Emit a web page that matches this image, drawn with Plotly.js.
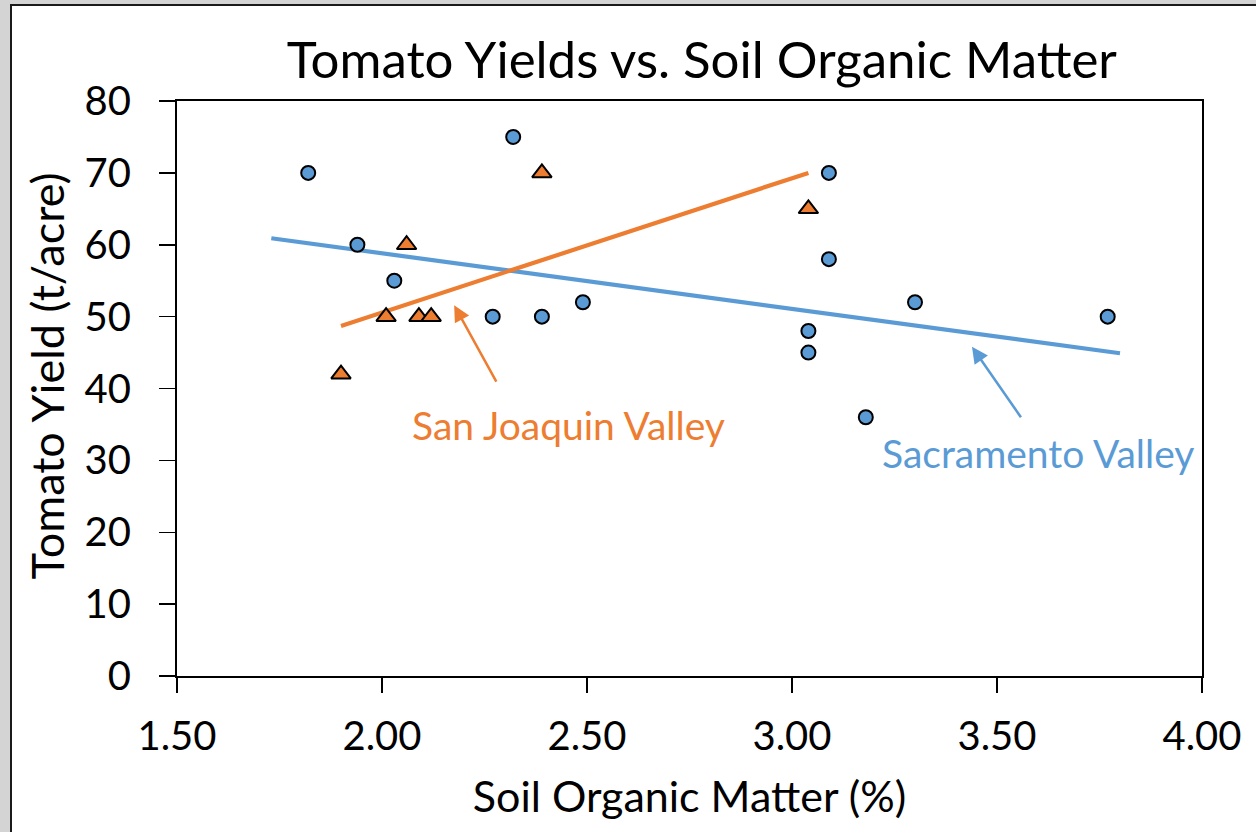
<!DOCTYPE html>
<html>
<head>
<meta charset="utf-8">
<script src="https://cdn.plot.ly/plotly-3.0.1.min.js"></script>
<style>
  html, body { margin: 0; padding: 0; background: #d4d4d4; width: 1256px; height: 832px; overflow: hidden; }
  #frame { position: absolute; left: 10px; top: 4px; width: 1244px; height: 826px;
           border-left: 2px solid #1a1a1a; border-top: 2px solid #1a1a1a; background: #ffffff; }
  #chart { width: 1244px; height: 826px; }
</style>
</head>
<body>
<div id="frame"><div id="chart"></div></div>
<script>
// Sacramento Valley (blue circles)
const sacX = [1.82, 2.32, 1.94, 2.03, 2.27, 2.39, 2.49, 3.09, 3.09, 3.04, 3.04, 3.18, 3.30, 3.77];
const sacY = [70, 75, 60, 55, 50, 50, 52, 70, 58, 48, 45, 36, 52, 50];
// San Joaquin Valley (orange triangles)
const sjX = [1.90, 2.01, 2.06, 2.09, 2.12, 2.39, 3.04];
const sjY = [42, 50, 60, 50, 50, 70, 65];
// Trendline end points
const sacTrendX = [1.73, 3.80];
const sacTrendY = [60.9, 44.9];
const sjTrendX = [1.90, 3.04];
const sjTrendY = [48.7, 70.0];

const xTicks = [1.5, 2.0, 2.5, 3.0, 3.5, 4.0];
const yTicks = [0, 10, 20, 30, 40, 50, 60, 70, 80];

const BLUE = '#5B9BD5';
const ORANGE = '#ED7D31';
const FONT = 'Lato, "Open Sans", sans-serif';

const traces = [
  { x: sacTrendX, y: sacTrendY, mode: 'lines', line: { color: BLUE, width: 4.2 }, hoverinfo: 'skip' },
  { x: sjTrendX, y: sjTrendY, mode: 'lines', line: { color: ORANGE, width: 4.2 }, hoverinfo: 'skip' },
  { x: sacX, y: sacY, mode: 'markers', name: 'Sacramento Valley',
    marker: { symbol: 'circle', size: 14, color: BLUE, line: { color: '#000000', width: 2 } } },
  { x: sjX, y: sjY, mode: 'markers', name: 'San Joaquin Valley',
    marker: { symbol: 'triangle-up', size: 17, color: ORANGE, line: { color: '#000000', width: 2 } } }
];

const layout = {
  width: 1244, height: 826,
  margin: { l: 165, r: 54, t: 95, b: 156 },
  paper_bgcolor: '#ffffff', plot_bgcolor: '#ffffff',
  showlegend: false,
  font: { family: FONT, color: '#000000' },
  title: { text: 'Tomato Yields vs. Soil Organic Matter', font: { family: FONT, size: 51, color: '#000000' },
           xref: 'paper', x: 0.512, xanchor: 'center', yref: 'container', y: 0.934, yanchor: 'middle' },
  xaxis: {
    range: [1.5, 4.0], tickvals: xTicks, tickformat: '.2f',
    showgrid: false, zeroline: false, showline: true, mirror: true, linecolor: '#000000', linewidth: 2,
    ticks: 'outside', ticklen: 15, tickwidth: 1.5, tickcolor: '#000000',
    tickfont: { family: FONT, size: 40 }, ticklabelstandoff: 9,
    title: { text: 'Soil Organic Matter (%)', font: { family: FONT, size: 43 }, standoff: 24 }
  },
  yaxis: {
    range: [0, 80], tickvals: yTicks,
    showgrid: false, zeroline: false, showline: true, mirror: true, linecolor: '#000000', linewidth: 2,
    ticks: 'outside', ticklen: 16, tickwidth: 1.5, tickcolor: '#000000',
    tickfont: { family: FONT, size: 40 }, ticklabelstandoff: 20,
    title: { text: '' }
  },
  annotations: [
    { x: -0.1268, y: 0.521, xref: 'paper', yref: 'paper', text: 'Tomato Yield (t/acre)', showarrow: false,
      textangle: -90, xanchor: 'center', yanchor: 'middle', font: { family: FONT, size: 45, color: '#000000' } },
    { x: 2.176, y: 51.6, ax: 43, ay: 78, xref: 'x', yref: 'y', text: '', showarrow: true,
      arrowhead: 2, arrowsize: 1.3, arrowwidth: 2.5, arrowcolor: ORANGE },
    { x: 3.439, y: 45.8, ax: 50, ay: 72, xref: 'x', yref: 'y', text: '', showarrow: true,
      arrowhead: 2, arrowsize: 1.3, arrowwidth: 2.5, arrowcolor: BLUE },
    { x: 2.456, y: 34.9, xref: 'x', yref: 'y', text: 'San Joaquin Valley', showarrow: false,
      font: { family: FONT, size: 39, color: ORANGE } },
    { x: 3.60, y: 31.0, xref: 'x', yref: 'y', text: 'Sacramento Valley', showarrow: false,
      font: { family: FONT, size: 39, color: BLUE } }
  ]
};

Plotly.newPlot('chart', traces, layout, { displayModeBar: false, staticPlot: true });
</script>
</body>
</html>
